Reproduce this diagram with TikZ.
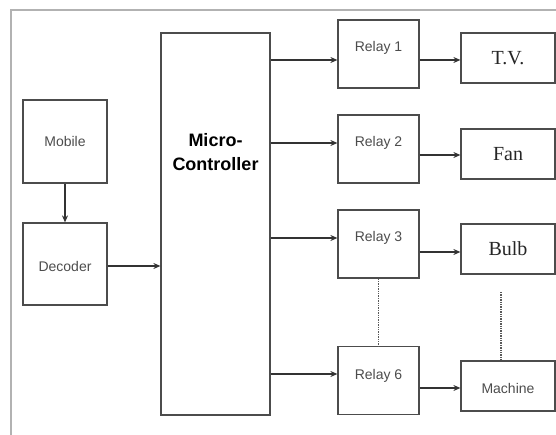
\documentclass[tikz,border=0pt]{standalone}
\usepackage{fontspec}
\setmainfont{Liberation Sans}
\newfontfamily\devfont{Liberation Serif}
\usepackage{tikz}
\usetikzlibrary{arrows.meta}

\tikzset{
	blk/.style={draw=black!70, line width=1.2pt, inner sep=0pt},
	relaybox/.style={blk, minimum width=81pt, minimum height=68pt},
	devbox/.style={blk, minimum width=94pt, minimum height=50pt},
	lbl/.style={text=black!70, font=\fontsize{14}{16}\selectfont},
	devlbl/.style={text=black!85, font=\devfont\fontsize{20}{22}\selectfont},
	arr/.style={line width=1.1pt, black!80, ->, >={Stealth[length=7pt, width=6pt]}},
	dots/.style={line width=1.4pt, black!65, densely dotted}
}

\begin{document}
\begin{tikzpicture}[x=1pt, y=-1pt]
	\useasboundingbox (0,0) rectangle (556,435);
	% frame
	\draw[gray!60, line width=2pt] (11,435) -- (11,10) -- (556,10);

	\node[blk, minimum width=84pt, minimum height=83pt] (mob) at (65,141.5) {};
	\node[lbl] at (65,141.5) {Mobile};
	\node[blk, minimum width=84pt, minimum height=82pt] (dec) at (65,264) {};
	\node[lbl] at (65,266) {Decoder};
	\node[blk, minimum width=109pt, minimum height=382pt] (mc) at (215.5,224) {};
	\node[align=center, font=\fontsize{18}{23.5}\selectfont\bfseries] at (215.5,152) {Micro-\\Controller};

	\node[relaybox] (r1) at (378.5,54) {};
	\node[lbl] at (378.5,48) {Relay 1};
	\node[relaybox] (r2) at (378.5,149) {};
	\node[lbl] at (378.5,143) {Relay 2};
	\node[relaybox] (r3) at (378.5,244) {};
	\node[lbl] at (378.5,238) {Relay 3};
	\node[relaybox] (r6) at (378.5,380.5) {};
	\node[lbl] at (378.5,376) {Relay 6};

	\node[devbox] (tv) at (508,58) {};
	\node[devlbl] at (508,58) {T.V.};
	\node[devbox] (fan) at (508,154) {};
	\node[devlbl] at (508,154) {Fan};
	\node[devbox] (bulb) at (508,249) {};
	\node[devlbl] at (508,249) {Bulb};
	\node[devbox] (mach) at (508,386) {};
	\node[lbl] at (508,388) {Machine};

	\draw[arr] (mob.south) -- (dec.north);
	\draw[arr] (dec.east |- 0,266) -- (mc.west |- 0,266);

	\draw[arr] (mc.east |- 0,60) -- (r1.west |- 0,60);
	\draw[arr] (mc.east |- 0,143) -- (r2.west |- 0,143);
	\draw[arr] (mc.east |- 0,238) -- (r3.west |- 0,238);
	\draw[arr] (mc.east |- 0,374) -- (r6.west |- 0,374);

	\draw[arr] (r1.east |- 0,60) -- (tv.west |- 0,60);
	\draw[arr] (r2.east |- 0,155) -- (fan.west |- 0,155);
	\draw[arr] (r3.east |- 0,252) -- (bulb.west |- 0,252);
	\draw[arr] (r6.east |- 0,388) -- (mach.west |- 0,388);

	\coordinate (dotend) at (501,292);
	\draw[dots] (r3.south) -- (r6.north);
	\draw[dots] (dotend) -- (dotend |- mach.north);
\end{tikzpicture}
\end{document}
